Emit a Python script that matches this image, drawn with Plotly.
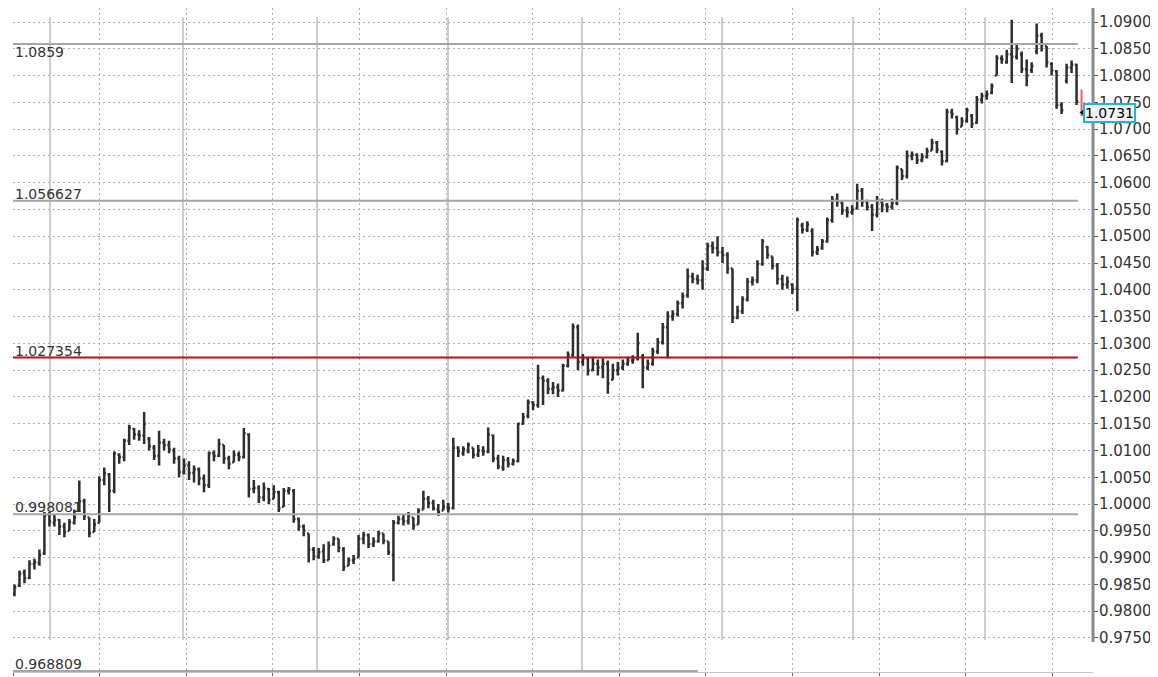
import plotly.graph_objects as go

# daily bars, oldest first
opens = [
    0.9832, 0.9848, 0.9872, 0.9862, 0.9888, 0.9890, 0.9908, 0.9980, 0.9965, 0.9970,
    0.9958, 0.9950, 0.9965, 0.9988, 1.0005, 0.9975, 0.9948, 0.9965, 1.0045, 1.0055,
    1.0025, 1.0092, 1.0088, 1.0118, 1.0140, 1.0130, 1.0128, 1.0122, 1.0105, 1.0090,
    1.0115, 1.0110, 1.0100, 1.0085, 1.0060, 1.0072, 1.0058, 1.0065, 1.0048, 1.0035,
    1.0095, 1.0090, 1.0110, 1.0085, 1.0078, 1.0092, 1.0088, 1.0130, 1.0028, 1.0030,
    1.0012, 1.0028, 1.0010, 1.0022, 0.9995, 1.0025, 1.0025, 0.9972, 0.9958, 0.9945,
    0.9915, 0.9902, 0.9912, 0.9895, 0.9925, 0.9935, 0.9915, 0.9885, 0.9895, 0.9900,
    0.9935, 0.9942, 0.9925, 0.9930, 0.9945, 0.9930, 0.9905, 0.9965, 0.9972, 0.9968,
    0.9975, 0.9962, 0.9990, 1.0010, 1.0002, 0.9990, 0.9988, 0.9995, 0.9992, 1.0105,
    1.0095, 1.0100, 1.0105, 1.0092, 1.0100, 1.0098, 1.0128, 1.0085, 1.0068, 1.0082,
    1.0075, 1.0080, 1.0150, 1.0165, 1.0190, 1.0185, 1.0235, 1.0230, 1.0215, 1.0218,
    1.0212, 1.0258, 1.0278, 1.0330, 1.0265, 1.0272, 1.0250, 1.0262, 1.0255, 1.0262,
    1.0232, 1.0250, 1.0255, 1.0262, 1.0268, 1.0272, 1.0275, 1.0255, 1.0262, 1.0285,
    1.0302, 1.0330, 1.0350, 1.0355, 1.0375, 1.0390, 1.0425, 1.0420, 1.0418, 1.0440,
    1.0482, 1.0478, 1.0470, 1.0465, 1.0440, 1.0348, 1.0360, 1.0382, 1.0415, 1.0418,
    1.0448, 1.0480, 1.0462, 1.0445, 1.0420, 1.0410, 1.0410, 1.0402, 1.0520, 1.0512,
    1.0510, 1.0470, 1.0478, 1.0490, 1.0530, 1.0568, 1.0562, 1.0548, 1.0545, 1.0552,
    1.0585, 1.0565, 1.0555, 1.0540, 1.0565, 1.0558, 1.0555, 1.0562, 1.0625, 1.0612,
    1.0650, 1.0652, 1.0642, 1.0648, 1.0660, 1.0675, 1.0658, 1.0640, 1.0732, 1.0722,
    1.0705, 1.0715, 1.0725, 1.0712, 1.0755, 1.0762, 1.0768, 1.0800, 1.0832, 1.0825,
    1.0840, 1.0835, 1.0840, 1.0812, 1.0810, 1.0845, 1.0875, 1.0855, 1.0822, 1.0808,
    1.0745, 1.0790, 1.0815, 1.0820, 1.0768,
]
highs = [
    0.9850, 0.9876, 0.9878, 0.9895, 0.9898, 0.9915, 0.9985, 0.9985, 0.9980, 0.9972,
    0.9965, 0.9972, 0.9990, 1.0044, 1.0010, 0.9975, 0.9972, 1.0052, 1.0068, 1.0058,
    1.0098, 1.0095, 1.0122, 1.0148, 1.0142, 1.0138, 1.0172, 1.0125, 1.0110, 1.0137,
    1.0122, 1.0118, 1.0105, 1.0090, 1.0085, 1.0080, 1.0072, 1.0068, 1.0055, 1.0098,
    1.0100, 1.0122, 1.0110, 1.0090, 1.0100, 1.0098, 1.0142, 1.0132, 1.0045, 1.0035,
    1.0040, 1.0030, 1.0035, 1.0025, 1.0030, 1.0032, 1.0028, 0.9975, 0.9962, 0.9945,
    0.9920, 0.9918, 0.9925, 0.9930, 0.9940, 0.9935, 0.9920, 0.9900, 0.9905, 0.9942,
    0.9948, 0.9945, 0.9938, 0.9950, 0.9945, 0.9930, 0.9970, 0.9978, 0.9980, 0.9985,
    0.9975, 0.9992, 1.0025, 1.0015, 1.0008, 1.0000, 1.0008, 1.0002, 1.0124, 1.0108,
    1.0108, 1.0115, 1.0105, 1.0110, 1.0108, 1.0143, 1.0130, 1.0092, 1.0090, 1.0088,
    1.0085, 1.0152, 1.0170, 1.0195, 1.0192, 1.0260, 1.0240, 1.0235, 1.0228, 1.0225,
    1.0262, 1.0285, 1.0337, 1.0335, 1.0280, 1.0275, 1.0275, 1.0270, 1.0272, 1.0268,
    1.0262, 1.0265, 1.0270, 1.0275, 1.0278, 1.0320, 1.0280, 1.0270, 1.0292, 1.0310,
    1.0338, 1.0360, 1.0362, 1.0380, 1.0395, 1.0440, 1.0432, 1.0428, 1.0455, 1.0488,
    1.0490, 1.0500, 1.0480, 1.0470, 1.0440, 1.0370, 1.0388, 1.0422, 1.0425, 1.0455,
    1.0495, 1.0482, 1.0462, 1.0450, 1.0428, 1.0425, 1.0412, 1.0535, 1.0525, 1.0528,
    1.0515, 1.0482, 1.0495, 1.0535, 1.0575, 1.0580, 1.0565, 1.0555, 1.0558, 1.0598,
    1.0590, 1.0568, 1.0560, 1.0575, 1.0570, 1.0562, 1.0570, 1.0632, 1.0625, 1.0660,
    1.0658, 1.0655, 1.0655, 1.0665, 1.0682, 1.0678, 1.0660, 1.0738, 1.0738, 1.0725,
    1.0722, 1.0740, 1.0728, 1.0762, 1.0768, 1.0772, 1.0785, 1.0838, 1.0838, 1.0848,
    1.0904, 1.0858, 1.0845, 1.0830, 1.0825, 1.0897, 1.0880, 1.0855, 1.0825, 1.0810,
    1.0750, 1.0822, 1.0828, 1.0822, 1.0774,
]
lows = [
    0.9828, 0.9845, 0.9852, 0.9860, 0.9878, 0.9885, 0.9905, 0.9958, 0.9958, 0.9942,
    0.9938, 0.9950, 0.9962, 0.9985, 0.9970, 0.9938, 0.9948, 0.9965, 1.0035, 0.9985,
    1.0020, 1.0075, 1.0080, 1.0110, 1.0120, 1.0118, 1.0112, 1.0100, 1.0082, 1.0072,
    1.0100, 1.0095, 1.0075, 1.0050, 1.0055, 1.0045, 1.0040, 1.0035, 1.0022, 1.0030,
    1.0080, 1.0088, 1.0075, 1.0065, 1.0078, 1.0080, 1.0085, 1.0012, 1.0020, 1.0002,
    1.0005, 1.0000, 1.0010, 0.9985, 0.9995, 1.0018, 0.9965, 0.9950, 0.9940, 0.9891,
    0.9895, 0.9898, 0.9890, 0.9895, 0.9922, 0.9910, 0.9875, 0.9885, 0.9888, 0.9900,
    0.9925, 0.9918, 0.9920, 0.9928, 0.9925, 0.9905, 0.9856, 0.9962, 0.9960, 0.9962,
    0.9952, 0.9962, 0.9990, 0.9992, 0.9988, 0.9978, 0.9988, 0.9984, 0.9990, 1.0088,
    1.0090, 1.0095, 1.0085, 1.0088, 1.0090, 1.0095, 1.0078, 1.0065, 1.0062, 1.0068,
    1.0072, 1.0078, 1.0148, 1.0160, 1.0175, 1.0180, 1.0185, 1.0205, 1.0205, 1.0200,
    1.0210, 1.0255, 1.0275, 1.0250, 1.0258, 1.0240, 1.0248, 1.0240, 1.0235, 1.0206,
    1.0232, 1.0240, 1.0250, 1.0258, 1.0262, 1.0268, 1.0216, 1.0250, 1.0258, 1.0280,
    1.0298, 1.0272, 1.0342, 1.0350, 1.0365, 1.0385, 1.0412, 1.0410, 1.0400, 1.0435,
    1.0468, 1.0462, 1.0450, 1.0430, 1.0338, 1.0345, 1.0355, 1.0378, 1.0408, 1.0412,
    1.0445, 1.0458, 1.0438, 1.0410, 1.0400, 1.0402, 1.0392, 1.0360, 1.0505, 1.0508,
    1.0462, 1.0465, 1.0475, 1.0488, 1.0525, 1.0555, 1.0540, 1.0535, 1.0540, 1.0550,
    1.0555, 1.0548, 1.0510, 1.0535, 1.0545, 1.0545, 1.0550, 1.0558, 1.0605, 1.0608,
    1.0642, 1.0635, 1.0638, 1.0645, 1.0660, 1.0655, 1.0632, 1.0638, 1.0720, 1.0690,
    1.0705, 1.0712, 1.0702, 1.0710, 1.0748, 1.0755, 1.0765, 1.0800, 1.0822, 1.0822,
    1.0786, 1.0830, 1.0805, 1.0780, 1.0805, 1.0840, 1.0845, 1.0815, 1.0800, 1.0738,
    1.0728, 1.0785, 1.0805, 1.0745, 1.0724,
]
closes = [
    0.9845, 0.9870, 0.9862, 0.9888, 0.9892, 0.9905, 0.9978, 0.9968, 0.9970, 0.9958,
    0.9948, 0.9966, 0.9975, 1.0005, 0.9978, 0.9945, 0.9962, 1.0045, 1.0058, 1.0025,
    1.0095, 1.0088, 1.0118, 1.0142, 1.0130, 1.0128, 1.0150, 1.0108, 1.0090, 1.0115,
    1.0110, 1.0102, 1.0085, 1.0060, 1.0072, 1.0058, 1.0065, 1.0048, 1.0035, 1.0095,
    1.0090, 1.0112, 1.0085, 1.0075, 1.0092, 1.0088, 1.0132, 1.0028, 1.0030, 1.0012,
    1.0030, 1.0008, 1.0022, 0.9992, 1.0025, 1.0028, 0.9972, 0.9958, 0.9950, 0.9915,
    0.9902, 0.9910, 0.9895, 0.9922, 0.9935, 0.9918, 0.9882, 0.9895, 0.9898, 0.9935,
    0.9942, 0.9925, 0.9930, 0.9945, 0.9932, 0.9910, 0.9965, 0.9972, 0.9968, 0.9978,
    0.9960, 0.9988, 1.0010, 1.0002, 0.9992, 0.9985, 0.9995, 0.9992, 1.0105, 1.0098,
    1.0102, 1.0110, 1.0092, 1.0100, 1.0098, 1.0130, 1.0085, 1.0070, 1.0082, 1.0075,
    1.0080, 1.0150, 1.0162, 1.0190, 1.0185, 1.0235, 1.0230, 1.0215, 1.0218, 1.0212,
    1.0258, 1.0278, 1.0330, 1.0265, 1.0272, 1.0250, 1.0262, 1.0255, 1.0262, 1.0225,
    1.0250, 1.0255, 1.0262, 1.0268, 1.0270, 1.0300, 1.0255, 1.0262, 1.0285, 1.0302,
    1.0330, 1.0350, 1.0355, 1.0375, 1.0388, 1.0425, 1.0420, 1.0418, 1.0440, 1.0482,
    1.0478, 1.0470, 1.0465, 1.0440, 1.0348, 1.0360, 1.0382, 1.0415, 1.0418, 1.0448,
    1.0490, 1.0465, 1.0445, 1.0420, 1.0410, 1.0415, 1.0402, 1.0530, 1.0512, 1.0522,
    1.0470, 1.0475, 1.0490, 1.0530, 1.0568, 1.0565, 1.0548, 1.0545, 1.0550, 1.0585,
    1.0565, 1.0555, 1.0540, 1.0565, 1.0558, 1.0555, 1.0562, 1.0628, 1.0612, 1.0650,
    1.0652, 1.0642, 1.0648, 1.0658, 1.0675, 1.0662, 1.0640, 1.0732, 1.0728, 1.0700,
    1.0715, 1.0735, 1.0710, 1.0755, 1.0762, 1.0765, 1.0780, 1.0832, 1.0830, 1.0840,
    1.0835, 1.0850, 1.0812, 1.0800, 1.0818, 1.0875, 1.0858, 1.0825, 1.0810, 1.0745,
    1.0735, 1.0815, 1.0820, 1.0752, 1.0731,
]

# retracement levels drawn across the chart
levels = [1.0859, 1.056627, 1.027354, 0.998081, 0.968809]
level_labels = ["1.0859", "1.056627", "1.027354", "0.998081", "0.968809"]

price_ticks = [
    0.9750, 0.9800, 0.9850, 0.9900, 0.9950, 1.0000, 1.0050, 1.0100, 1.0150, 1.0200,
    1.0250, 1.0300, 1.0350, 1.0400, 1.0450, 1.0500, 1.0550, 1.0600, 1.0650, 1.0700,
    1.0750, 1.0800, 1.0850, 1.0900,
]

FONT = "DejaVu Sans"
BAR = "#2e2e2e"
n = len(closes)
idx = list(range(n))

fig = go.Figure()
fig.add_trace(go.Ohlc(
    x=idx[:-1], open=opens[:-1], high=highs[:-1], low=lows[:-1], close=closes[:-1],
    increasing=dict(line=dict(color=BAR, width=2.5)),
    decreasing=dict(line=dict(color=BAR, width=2.5)),
    tickwidth=0.35, hoverinfo="skip", showlegend=False,
))
# current (unfinished) bar in red
fig.add_trace(go.Ohlc(
    x=idx[-1:], open=opens[-1:], high=highs[-1:], low=lows[-1:], close=closes[-1:],
    increasing=dict(line=dict(color="#ff5a5a", width=2)),
    decreasing=dict(line=dict(color="#ff5a5a", width=2)),
    tickwidth=0, hoverinfo="skip", showlegend=False,
))
fig.add_trace(go.Scatter(
    x=[idx[-1] + 0.5], y=closes[-1:], mode="markers", cliponaxis=False,
    marker=dict(symbol="triangle-left", size=9, color="#111111"),
    hoverinfo="skip", showlegend=False,
))

shapes = []
# period separators
for px in [50, 183, 317, 448, 582, 722, 853, 985]:
    xp = (px - 13) / 1080
    y0 = 0.0 if px in (317, 582) else 0.048
    shapes.append(dict(type="line", xref="paper", yref="paper", x0=xp, x1=xp, y0=y0, y1=0.986,
                       line=dict(color="#cdcdcd", width=2), layer="below"))
# level lines
for lv in levels:
    col = "#b01515" if lv == levels[2] else "#a6a6a6"
    x1 = 0.634 if lv == levels[-1] else 0.986
    shapes.append(dict(type="line", xref="paper", yref="y", x0=0, x1=x1, y0=lv, y1=lv,
                       line=dict(color=col, width=2), layer="above"))
# price scale line
shapes.append(dict(type="line", xref="paper", yref="paper", x0=1.0, x1=1.0, y0=0.045, y1=1.0,
                   line=dict(color="#8a8a8a", width=3)))
fig.update_layout(shapes=shapes)

anns = []
for i, (lv, txt) in enumerate(zip(levels, level_labels)):
    anns.append(dict(xref="paper", yref="y", x=0, y=lv, text=txt, showarrow=False,
                     xanchor="left", yanchor="top" if i == 0 else "bottom",
                     yshift=2 if i == 0 else -3,
                     font=dict(family=FONT, size=14, color="#333333")))
anns.append(dict(xref="paper", yref="y", x=1.0157, y=closes[-1], text=f"{closes[-1]:.4f}",
                 showarrow=False, xanchor="center", yanchor="middle",
                 font=dict(family=FONT, size=14, color="#000000"),
                 bgcolor="#f2f2f2", bordercolor="#1fb8c9", borderwidth=2, borderpad=0))
fig.update_layout(annotations=anns)

# the page adds an 8px body margin, so the figure is a little smaller than the window
fig.update_layout(
    width=1150, height=669,
    margin=dict(l=5, r=65, t=0, b=5),
    plot_bgcolor="white", paper_bgcolor="white",
    showlegend=False,
    xaxis=dict(
        range=[-0.3, 216.3], rangeslider=dict(visible=False),
        showticklabels=False, tick0=-0.3, dtick=17.37,
        showgrid=True, gridcolor="#b0b0b0", griddash="2px,3px", gridwidth=1,
        zeroline=False, showline=True, linecolor="#c4c4c4", linewidth=1,
        ticks="outside", ticklen=3, tickcolor="#666666",
    ),
    yaxis=dict(
        side="right", range=[0.968641, 1.092614],
        tickvals=price_ticks, tickformat=".4f",
        showgrid=True, gridcolor="#b0b0b0", griddash="2px,3px", gridwidth=1,
        zeroline=False, showline=False,
        ticks="outside", ticklen=4, tickcolor="#555555", ticklabelstandoff=-2,
        tickfont=dict(family=FONT, size=15, color="#333333"),
    ),
)

fig.write_html("out.html")
